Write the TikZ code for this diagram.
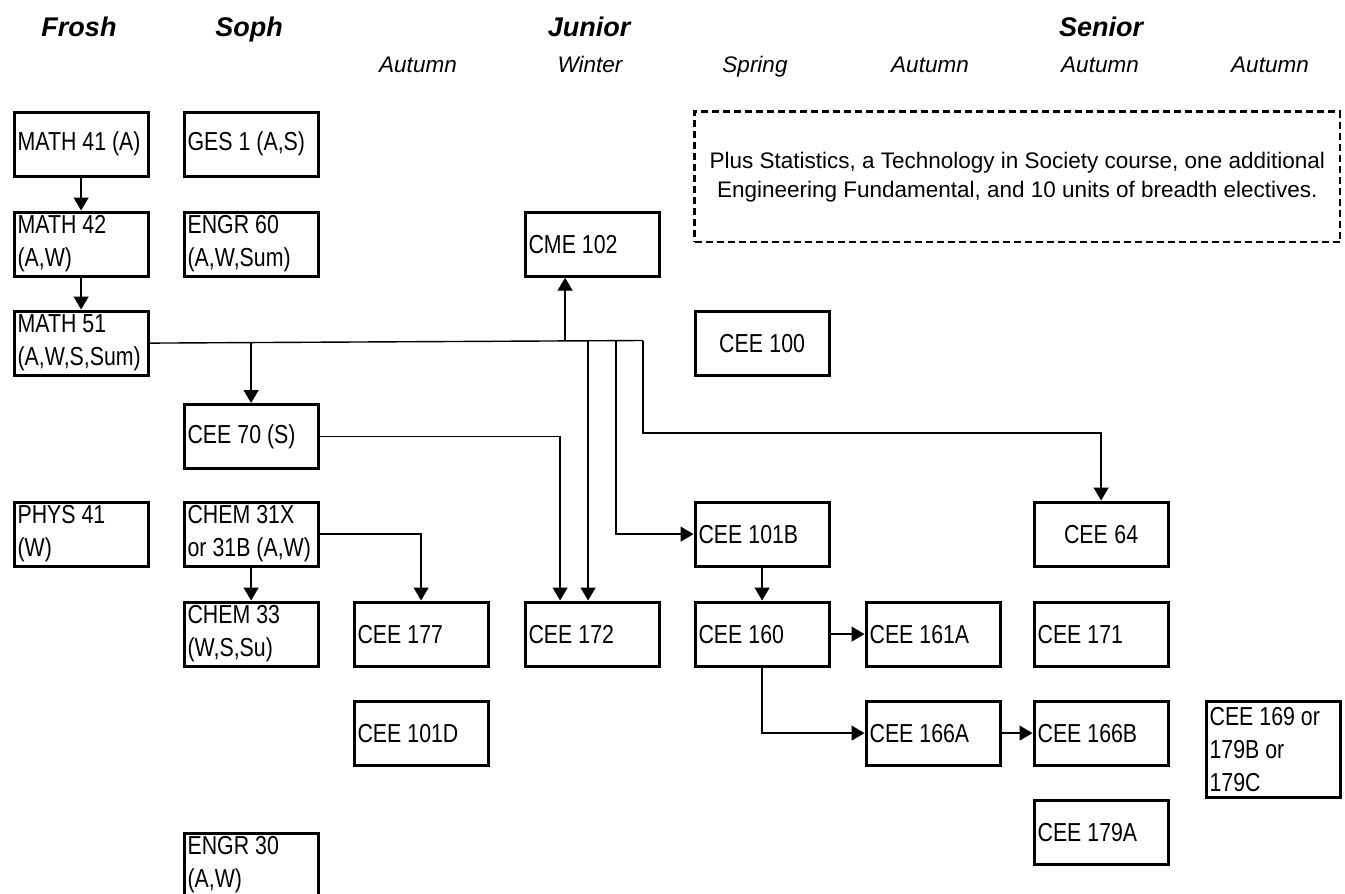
\documentclass[tikz,border=0pt]{standalone}
\usepackage{fontspec}
\setmainfont{Liberation Sans}
\newfontfamily\narrowfont{Liberation Sans}[FakeStretch=0.82]
\usetikzlibrary{arrows.meta, positioning}

\tikzset{
  course/.style={draw, line width=3.2pt, anchor=north west, minimum width=134pt, minimum height=64pt,
    text width=127pt, inner xsep=3.5pt, inner ysep=0pt, align=left, font=\narrowfont\fontsize{26}{33}\selectfont,
    execute at begin node={\spaceskip=6pt plus 1pt\relax}},
  year/.style={anchor=base, font=\fontsize{27}{30}\selectfont\bfseries\itshape},
  term/.style={anchor=base, font=\fontsize{22.5}{26}\selectfont\itshape},
  extras/.style={draw, line width=2.5pt, dash pattern=on 7pt off 4pt, anchor=north west,
    minimum width=645.5pt, minimum height=130.5pt, align=center, font=\fontsize{22.5}{29}\selectfont},
  wire/.style={line width=1.4pt},
  feed/.style={wire, -{Triangle[length=13pt,width=15pt]}},
}

\begin{document}
\begin{tikzpicture}[x=1pt, y=-1pt]
  \useasboundingbox (0,0) rectangle (1345,894);
  % Years and terms
  \node[year] (frosh) at (79,36) {Frosh};
  \node[year] (soph) at (249,36) {Soph};
  \node[year] (junior) at (589,36) {Junior};
  \node[year] (senior) at (1101,36) {Senior};
  \node[term] (autA) at (418,72) {Autumn};
  \node[term] (winB) at (590,72) {Winter};
  \node[term] (sprC) at (755,72) {Spring};
  \node[term] (autD) at (930,72) {Autumn};
  \node[term] (autE) at (1100,72) {Autumn};
  \node[term] (autF) at (1270,72) {Autumn};
  % Frosh column
  \node[course] (math41) at (12.5,110.5) {MATH 41 (A)};
  \node[course] (math42) at (12.5,210.5) {MATH 42\\(A,W)};
  \node[course] (math51) at (12.5,309.5) {MATH 51\\(A,W,S,Sum)};
  \node[course] (phys41) at (12.5,500.5) {PHYS 41\\(W)};
  % Soph column
  \node[course] (ges1) at (182.5,110.5) {GES 1 (A,S)};
  \node[course] (engr60) at (182.5,210.5) {ENGR 60\\(A,W,Sum)};
  \node[course] (cee70) at (182.5,403) {CEE 70 (S)};
  \node[course] (chem31) at (182.5,500.5) {CHEM 31X\\or 31B (A,W)};
  \node[course] (chem33) at (182.5,600.5) {CHEM 33\\(W,S,Su)};
  \node[course] (engr30) at (182.5,831.5) {ENGR 30\\(A,W)};
  % Junior and senior
  \node[course] (cee177) at (352.5,600.5) {CEE 177};
  \node[course] (cee101d) at (352.5,699.5) {CEE 101D};
  \node[course] (cme102) at (523.5,210.5) {CME 102};
  \node[course] (cee172) at (523.5,600.5) {CEE 172};
  \node[course, align=center] (cee100) at (693.5,309.5) {CEE 100};
  \node[course] (cee101b) at (693.5,500.5) {CEE 101B};
  \node[course] (cee160) at (693.5,600.5) {CEE 160};
  \node[course] (cee161a) at (864.5,600.5) {CEE 161A};
  \node[course] (cee166a) at (864.5,699.5) {CEE 166A};
  \node[course, align=center] (cee64) at (1032.5,500.5) {CEE 64};
  \node[course] (cee171) at (1032.5,600.5) {CEE 171};
  \node[course] (cee166b) at (1032.5,699.5) {CEE 166B};
  \node[course] (cee179a) at (1032.5,798.5) {CEE 179A};
  \node[course, minimum height=96pt] (cee169) at (1204.5,699.5) {CEE 169 or\\179B or\\179C};
  % Other requirements
  \node[extras] (plus) at (693.25,110.25) {Plus Statistics, a Technology in Society course, one additional\\Engineering Fundamental, and 10 units of breadth electives.};
  % Math sequence
  \draw[feed] (math41) -- (math42);
  \draw[feed] (math42) -- (math51);
  % Trunk out of MATH 51
  \coordinate (trunkend) at (643,340.5);
  \coordinate (drop101) at (616,340.5);
  \coordinate (cmein) at ([xshift=-27pt]cme102.south);
  \coordinate (in172a) at ([xshift=-32pt]cee172.north);
  \coordinate (in172b) at ([xshift=-4pt]cee172.north);
  \coordinate (turn64) at (643,433);
  \draw[wire] (math51.east) -- (trunkend);
  \draw[feed] (math51.east -| cee70.north) -- (cee70.north);
  \draw[feed] (cmein |- trunkend) -- (cmein);
  \draw[feed] (in172b |- trunkend) -- (in172b);
  \draw[feed] (drop101) |- (cee101b.west);
  \draw[feed] (trunkend) -- (turn64) -| (cee64.north);
  % Soph prerequisites
  \draw[feed] (cee70.east) -| (in172a);
  \draw[feed] (chem31.east) -| (cee177.north);
  \draw[feed] (chem31) -- (chem33);
  % Environmental sequence
  \draw[feed] (cee101b) -- (cee160);
  \draw[feed] (cee160) -- (cee161a);
  \draw[feed] (cee160.south) |- (cee166a.west);
  \draw[feed] (cee166a) -- (cee166b);
\end{tikzpicture}
\end{document}
